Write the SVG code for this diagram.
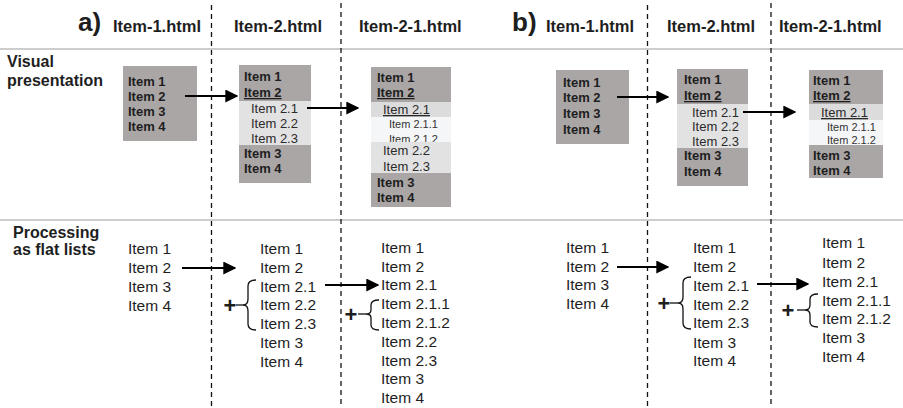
<svg xmlns="http://www.w3.org/2000/svg" width="903" height="408" viewBox="0 0 903 408">
<style>
text{font-family:"Liberation Sans",Arial,sans-serif;fill:#1e1e1e}
.hd{font-size:16.5px;font-weight:bold}
.lb{font-size:26px;font-weight:bold}
.side{font-size:16px;font-weight:bold}
.bi{font-size:13px;font-weight:bold}
.si{font-size:13px;fill:#2a2a2a}
.ssi{font-size:11px;fill:#333}
.pi{font-size:15.5px}
.plus{font-size:22px;font-weight:bold;text-anchor:middle}
.u{text-decoration:underline}
.dark{fill:#aaa6a6}
.light{fill:#e2e2e2}
.mid{fill:#dcdcdc}
.vlight{fill:#f5f6f8}
.sep{stroke:#bdbdbd;stroke-width:1.6}
.dash{stroke:#111;stroke-width:1.3;stroke-dasharray:5 4}
.arr{stroke:#000;stroke-width:2;fill:none;marker-end:url(#ah)}
.br{stroke:#111;stroke-width:1.3;fill:none}
</style>
<defs>
<marker id="ah" viewBox="0 0 10 10" refX="9" refY="5" markerWidth="6.5" markerHeight="6.5" markerUnits="strokeWidth" orient="auto">
<path d="M0,0 L10,5 L0,10 z" fill="#000"/>
</marker>
</defs>
<rect width="903" height="408" fill="#fff"/>

<g id="grid">
<line class="sep" x1="0" y1="49" x2="903" y2="49"/>
<line class="sep" x1="0" y1="220" x2="903" y2="220"/>
<line class="dash" x1="211.5" y1="5" x2="211.5" y2="408"/>
<line class="dash" x1="341" y1="3" x2="341" y2="408"/>
<line class="dash" x1="647.5" y1="5" x2="647.5" y2="408"/>
<line class="dash" x1="771" y1="3" x2="771" y2="408"/>
</g>

<g id="headers">
<text class="lb" x="78" y="31">a)</text>
<text class="hd" x="113" y="32">Item-1.html</text>
<text class="hd" x="234" y="32">Item-2.html</text>
<text class="hd" x="359" y="32">Item-2-1.html</text>
<text class="lb" x="512" y="31">b)</text>
<text class="hd" x="546" y="32">Item-1.html</text>
<text class="hd" x="667" y="32">Item-2.html</text>
<text class="hd" x="779" y="32">Item-2-1.html</text>
<text class="side" x="7" y="67">Visual</text>
<text class="side" x="7" y="86">presentation</text>
<text class="side" x="13" y="238">Processing</text>
<text class="side" x="13" y="255">as flat lists</text>
</g>

<g id="box-a1">
<rect class="dark" x="123" y="66" width="74" height="75"/>
<text class="bi" x="128" y="86">Item 1</text>
<text class="bi" x="128" y="101">Item 2</text>
<text class="bi" x="128" y="116">Item 3</text>
<text class="bi" x="128" y="131">Item 4</text>
</g>

<g id="box-a2">
<rect class="dark" x="239" y="65" width="72" height="36"/>
<rect class="light" x="239" y="101" width="72" height="44"/>
<rect class="dark" x="239" y="145" width="72" height="38"/>
<text class="bi" x="244" y="81">Item 1</text>
<text class="bi u" x="244" y="97">Item 2</text>
<text class="si" x="251" y="113">Item 2.1</text>
<text class="si" x="251" y="128">Item 2.2</text>
<text class="si" x="251" y="143">Item 2.3</text>
<text class="bi" x="244" y="158">Item 3</text>
<text class="bi" x="244" y="173">Item 4</text>
</g>

<g id="box-a3">
<rect class="dark" x="371" y="67" width="80" height="35"/>
<rect class="mid" x="371" y="102" width="80" height="15"/>
<rect class="vlight" x="371" y="117" width="80" height="25"/>
<text class="bi" x="377" y="82">Item 1</text>
<text class="bi u" x="377" y="97">Item 2</text>
<text class="si u" x="383" y="114">Item 2.1</text>
<text class="ssi" x="389" y="127.5">Item 2.1.1</text>
<text class="ssi" x="389" y="142.5">Item 2.1.2</text>
<rect class="light" x="371" y="142" width="80" height="31"/>
<rect class="dark" x="371" y="173" width="80" height="34"/>
<text class="si" x="383" y="155">Item 2.2</text>
<text class="si" x="383" y="171">Item 2.3</text>
<text class="bi" x="377" y="187">Item 3</text>
<text class="bi" x="377" y="202">Item 4</text>
</g>

<g id="box-b1">
<rect class="dark" x="556" y="70" width="73" height="74"/>
<text class="bi" x="563" y="87">Item 1</text>
<text class="bi" x="563" y="102">Item 2</text>
<text class="bi" x="563" y="118">Item 3</text>
<text class="bi" x="563" y="134">Item 4</text>
</g>

<g id="box-b2">
<rect class="dark" x="677" y="69" width="71" height="35"/>
<rect class="light" x="677" y="104" width="71" height="44"/>
<rect class="dark" x="677" y="148" width="71" height="38"/>
<text class="bi" x="684" y="84">Item 1</text>
<text class="bi u" x="684" y="100">Item 2</text>
<text class="si" x="692" y="117">Item 2.1</text>
<text class="si" x="692" y="131">Item 2.2</text>
<text class="si" x="692" y="146">Item 2.3</text>
<text class="bi" x="684" y="160">Item 3</text>
<text class="bi" x="684" y="176">Item 4</text>
</g>

<g id="box-b3">
<rect class="dark" x="809" y="70" width="74" height="34"/>
<rect class="mid" x="809" y="104" width="74" height="16"/>
<rect class="vlight" x="809" y="120" width="74" height="25"/>
<rect class="dark" x="809" y="145" width="74" height="33"/>
<text class="bi" x="813" y="85">Item 1</text>
<text class="bi u" x="813" y="100">Item 2</text>
<text class="si u" x="821" y="117">Item 2.1</text>
<text class="ssi" x="827" y="131">Item 2.1.1</text>
<text class="ssi" x="827" y="144">Item 2.1.2</text>
<text class="bi" x="813" y="160">Item 3</text>
<text class="bi" x="813" y="175">Item 4</text>
</g>

<g id="list-a1">
<text class="pi" x="128" y="254">Item 1</text>
<text class="pi" x="128" y="273">Item 2</text>
<text class="pi" x="128" y="292">Item 3</text>
<text class="pi" x="128" y="311">Item 4</text>
</g>

<g id="list-a2">
<text class="pi" x="260" y="254">Item 1</text>
<text class="pi" x="260" y="273">Item 2</text>
<text class="pi" x="260" y="292">Item 2.1</text>
<text class="pi" x="260" y="310">Item 2.2</text>
<text class="pi" x="260" y="329">Item 2.3</text>
<text class="pi" x="260" y="348">Item 3</text>
<text class="pi" x="260" y="367">Item 4</text>
<path class="br" d="M256,280 Q248,280 248,286 L248,299 Q248,305 243,305 Q248,305 248,311 L248,324 Q248,330 256,330"/>
<line class="br" x1="236" y1="305" x2="243" y2="305"/>
<text class="plus" x="230" y="313">+</text>
</g>

<g id="list-a3">
<text class="pi" x="381" y="253">Item 1</text>
<text class="pi" x="381" y="272">Item 2</text>
<text class="pi" x="381" y="290">Item 2.1</text>
<text class="pi" x="381" y="309">Item 2.1.1</text>
<text class="pi" x="381" y="328">Item 2.1.2</text>
<text class="pi" x="381" y="347">Item 2.2</text>
<text class="pi" x="381" y="366">Item 2.3</text>
<text class="pi" x="381" y="384">Item 3</text>
<text class="pi" x="381" y="403">Item 4</text>
<path class="br" d="M379,300 Q371,300 371,305 L371,310 Q371,314 366,314 Q371,314 371,318 L371,325 Q371,330 379,330"/>
<line class="br" x1="358" y1="314" x2="366" y2="314"/>
<text class="plus" x="351" y="322">+</text>
</g>

<g id="list-b1">
<text class="pi" x="566" y="253">Item 1</text>
<text class="pi" x="566" y="272">Item 2</text>
<text class="pi" x="566" y="290">Item 3</text>
<text class="pi" x="566" y="309">Item 4</text>
</g>

<g id="list-b2">
<text class="pi" x="693" y="253">Item 1</text>
<text class="pi" x="693" y="272">Item 2</text>
<text class="pi" x="693" y="291">Item 2.1</text>
<text class="pi" x="693" y="310">Item 2.2</text>
<text class="pi" x="693" y="328">Item 2.3</text>
<text class="pi" x="693" y="348">Item 3</text>
<text class="pi" x="693" y="366">Item 4</text>
<path class="br" d="M691,277 Q683,277 683,283 L683,297 Q683,303 678,303 Q683,303 683,309 L683,323 Q683,329 691,329"/>
<line class="br" x1="670" y1="303" x2="678" y2="303"/>
<text class="plus" x="664" y="311">+</text>
</g>

<g id="list-b3">
<text class="pi" x="822" y="248">Item 1</text>
<text class="pi" x="822" y="268">Item 2</text>
<text class="pi" x="822" y="287">Item 2.1</text>
<text class="pi" x="822" y="306">Item 2.1.1</text>
<text class="pi" x="822" y="324">Item 2.1.2</text>
<text class="pi" x="822" y="343">Item 3</text>
<text class="pi" x="822" y="362">Item 4</text>
<path class="br" d="M818,294 Q810,294 810,299 L810,305 Q810,310 805,310 Q810,310 810,315 L810,322 Q810,327 818,327"/>
<line class="br" x1="797" y1="310" x2="805" y2="310"/>
<text class="plus" x="788" y="318">+</text>
</g>

<g id="connectors">
<line class="arr" x1="185" y1="96" x2="237" y2="96"/>
<line class="arr" x1="307" y1="108" x2="358" y2="108"/>
<line class="arr" x1="617" y1="97" x2="668" y2="97"/>
<line class="arr" x1="743" y1="112" x2="795" y2="112"/>
<line class="arr" x1="182" y1="268" x2="235" y2="268"/>
<line class="arr" x1="325" y1="285" x2="378" y2="285"/>
<line class="arr" x1="617" y1="267" x2="668" y2="267"/>
<line class="arr" x1="757" y1="284" x2="808" y2="284"/>
</g>
</svg>
